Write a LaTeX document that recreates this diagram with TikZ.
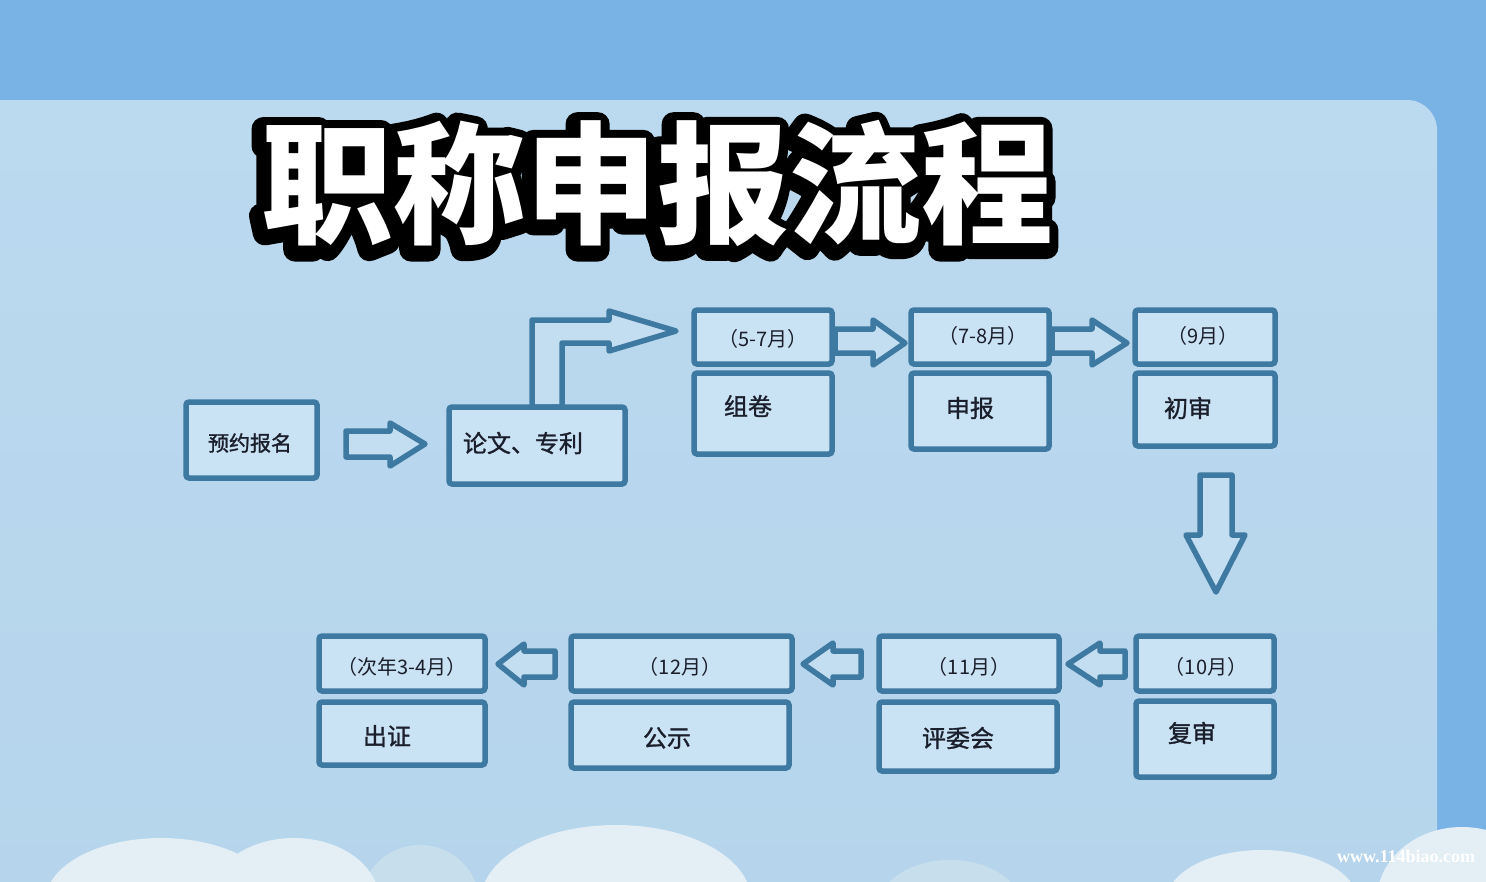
\documentclass[tikz,border=0pt]{standalone}
\usepackage{fontspec}
\setmainfont{Noto Sans CJK SC}
\newfontfamily\boxfont{Noto Sans CJK SC}[FakeBold=1.2]
\newfontfamily\wmfont{Liberation Serif}
\usetikzlibrary{calc}
\definecolor{topband}{HTML}{79B3E5}
\definecolor{panel}{HTML}{BBD9EF}
\definecolor{panelb}{HTML}{B5D5EC}
\definecolor{boxline}{HTML}{3E79A1}
\definecolor{boxfill}{HTML}{C9E2F4}
\definecolor{arrowfill}{HTML}{C3DDF1}
\definecolor{txtc}{HTML}{1B1E2B}
\definecolor{cloud}{HTML}{E3EEF5}
\definecolor{cloudb}{HTML}{C7DFEC}
\tikzset{
  box/.style={draw=boxline, line width=5.5pt, fill=boxfill, rounded corners=3pt, inner sep=0pt},
  blockarrow/.style={draw=boxline, line width=5.5pt, fill=arrowfill, line join=round},
  lbl/.style={text=txtc, font=\boxfont\fontsize{24}{24}\selectfont, inner sep=0pt},
  datelbl/.style={text=txtc, font=\fontsize{20}{20}\selectfont, inner sep=0pt},
  titleblk/.style={text=black, font=\fontsize{132}{132}\selectfont\bfseries, inner sep=0pt},
  titlewht/.style={text=white, font=\fontsize{132}{132}\selectfont\bfseries, inner sep=0pt},
}
\begin{document}
\begin{tikzpicture}[x=1pt,y=-1pt]
\useasboundingbox (0,0) rectangle (1486,881);
\begin{scope}
\clip (0,0) rectangle (1486,881);
% background
\fill[topband] (0,0) rectangle (1486,881);
\shade[top color=panel, bottom color=panelb, rounded corners=30pt] (-40,100) rectangle (1437,950);
% clouds
\fill[cloudb] (950,905) ellipse [x radius=70, y radius=45];
\fill[cloudb] (420,905) ellipse [x radius=60, y radius=60];
\fill[cloud] (161,900) ellipse [x radius=115, y radius=62];
\fill[cloud] (294,900) ellipse [x radius=85, y radius=62];
\fill[cloud] (616,900) ellipse [x radius=135, y radius=75];
\fill[cloud] (1262,900) ellipse [x radius=95, y radius=50];
\fill[cloud] (1462,900) ellipse [x radius=85, y radius=73];
\end{scope}
% watermark
\node[text=white, font=\wmfont\bfseries\fontsize{18}{18}\selectfont, inner sep=0pt] (wm) at (1406,856) {www.114biao.com};

% title: black stroked layer (outline + shadow), white text on top
\coordinate (tc) at (657,183);
\node[titleblk] (titleback) at ($(tc)+(-3,4)$) {\special{pdf:literal direct 2 Tr 1 j 1 J 24 w 0 0 0 RG}职称申报流程\special{pdf:literal direct 0 Tr}};
\node[titlewht] (title) at (tc) {职称申报流程};

% arrows (drawn before boxes)
\draw[blockarrow] (346,431) -- (390,431) -- (390,423) -- (425,444) -- (390,466) -- (390,457) -- (346,457) -- cycle;
\draw[blockarrow] (532,407) -- (532,320) -- (609,320) -- (609,311) -- (676,331) -- (609,351) -- (609,343) -- (562,343) -- (562,407) -- cycle;
\draw[blockarrow] (835,329) -- (873,329) -- (873,320) -- (905,343) -- (873,365) -- (873,353) -- (835,353) -- cycle;
\draw[blockarrow] (1052,329) -- (1092,329) -- (1092,320) -- (1127,343) -- (1092,365) -- (1092,353) -- (1052,353) -- cycle;
\draw[blockarrow] (1200,475) -- (1232,475) -- (1232,535) -- (1245,535) -- (1216,592) -- (1186,535) -- (1200,535) -- cycle;
\draw[blockarrow] (1125,651) -- (1100,651) -- (1100,643) -- (1068,664) -- (1100,685) -- (1100,677) -- (1125,677) -- cycle;
\draw[blockarrow] (861,651) -- (833,651) -- (833,643) -- (803,664) -- (833,685) -- (833,677) -- (861,677) -- cycle;
\draw[blockarrow] (555,651) -- (524,651) -- (524,644) -- (498,664) -- (524,685) -- (524,677) -- (555,677) -- cycle;

% boxes
\node[box, minimum width=131pt, minimum height=76pt] (reg) at (251.5,440) {};
\node[box, minimum width=176pt, minimum height=77pt] (paper) at (537,445.5) {};
\node[box, minimum width=138pt, minimum height=54pt] (At) at (763,337) {};
\node[box, minimum width=138pt, minimum height=81pt] (Ab) at (763,413.5) {};
\node[box, minimum width=138pt, minimum height=54pt] (Bt) at (980,337) {};
\node[box, minimum width=138pt, minimum height=76pt] (Bb) at (980,411) {};
\node[box, minimum width=140pt, minimum height=54pt] (Ct) at (1205,337) {};
\node[box, minimum width=140pt, minimum height=73pt] (Cb) at (1205,409.5) {};
\node[box, minimum width=138pt, minimum height=55pt] (Dt) at (1205,663.5) {};
\node[box, minimum width=138pt, minimum height=76pt] (Db) at (1205,739) {};
\node[box, minimum width=180pt, minimum height=55pt] (Et) at (969,663.5) {};
\node[box, minimum width=178pt, minimum height=69pt] (Eb) at (968,736.5) {};
\node[box, minimum width=221pt, minimum height=55pt] (Ft) at (681.5,663.5) {};
\node[box, minimum width=218pt, minimum height=66pt] (Fb) at (680,735) {};
\node[box, minimum width=166pt, minimum height=55pt] (Gt) at (402,663.5) {};
\node[box, minimum width=166pt, minimum height=63pt] (Gb) at (402,733.5) {};

% texts
\node[lbl, font=\boxfont\fontsize{21}{21}\selectfont] (t1) at (250,443) {预约报名};
\node[lbl] (t2) at (523,443) {论文、专利};
\node[datelbl] (d3) at (763,339) {（5-7月）};
\node[lbl] (t3) at (748,406) {组卷};
\node[datelbl] (d4) at (983,336) {（7-8月）};
\node[lbl] (t4) at (970,408) {申报};
\node[datelbl] (d5) at (1203,336) {（9月）};
\node[lbl] (t5) at (1188,408) {初审};
\node[datelbl] (d6) at (1206,667) {（10月）};
\node[lbl] (t6) at (1192,733) {复审};
\node[datelbl] (d7) at (969,667) {（11月）};
\node[lbl] (t7) at (958,738) {评委会};
\node[datelbl] (d8) at (680,667) {（12月）};
\node[lbl] (t8) at (667,738) {公示};
\node[datelbl] (d9) at (402,667) {（次年3-4月）};
\node[lbl] (t9) at (387,736) {出证};
\end{tikzpicture}
\end{document}
